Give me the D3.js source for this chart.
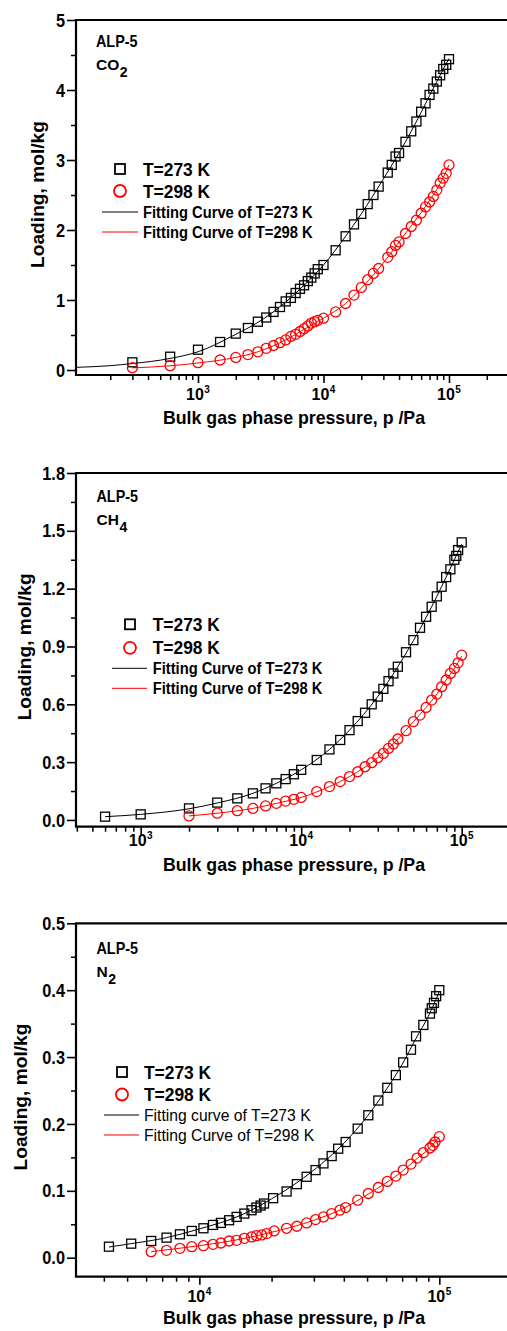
<!DOCTYPE html>
<html>
<head>
<meta charset="utf-8">
<script src="https://cdn.jsdelivr.net/npm/d3@7"></script>
<style>
  body { margin: 0; background: #fff; }
  svg { display: block; font-family: "Liberation Sans", Arial, sans-serif; }
</style>
</head>
<body>
<div id="chart"></div>
<script>
// ── Data: CO2 ────────────────────────────────────────────────────────────
const co2P = [300, 600, 1000, 1500, 2000, 2500, 3000, 3500, 4000, 4500, 5000, 5500, 6000, 6500, 7000, 7500, 8000, 8500, 9000, 10000, 12500, 15000, 17500, 20000, 22500, 25000, 27500, 32500, 35000, 37500, 40000, 45000, 50000, 55000, 60000, 65000, 70000, 75000, 80000, 85000, 90000, 95000, 100000];
const co2Q273 = [0.11, 0.19, 0.29, 0.40, 0.52, 0.60, 0.69, 0.75, 0.83, 0.90, 0.98, 1.03, 1.10, 1.16, 1.21, 1.27, 1.32, 1.38, 1.44, 1.50, 1.71, 1.91, 2.08, 2.23, 2.37, 2.50, 2.62, 2.82, 2.93, 3.05, 3.10, 3.26, 3.41, 3.55, 3.69, 3.81, 3.93, 4.02, 4.12, 4.21, 4.30, 4.36, 4.44];
const co2Q298 = [0.033, 0.062, 0.105, 0.143, 0.18, 0.22, 0.26, 0.31, 0.35, 0.39, 0.43, 0.48, 0.51, 0.55, 0.59, 0.63, 0.67, 0.69, 0.71, 0.74, 0.83, 0.95, 1.07, 1.18, 1.29, 1.38, 1.45, 1.61, 1.69, 1.78, 1.83, 1.95, 2.05, 2.14, 2.24, 2.33, 2.40, 2.48, 2.57, 2.67, 2.74, 2.81, 2.93];
const co2FitP273 = [107, 200, 300, 600, 1000, 2000, 3000, 5000, 7000, 10000, 15000, 20000, 30000, 40000, 50000, 60000, 70000, 80000, 90000, 100000];
const co2Fit273 = [0.038, 0.062, 0.092, 0.165, 0.26, 0.51, 0.68, 0.97, 1.21, 1.50, 1.91, 2.23, 2.73, 3.10, 3.41, 3.68, 3.92, 4.12, 4.30, 4.45];
const co2FitP298 = [300, 600, 1000, 2000, 3000, 5000, 7000, 10000, 15000, 20000, 30000, 40000, 50000, 60000, 70000, 80000, 90000, 100000];
const co2Fit298 = [0.03, 0.06, 0.10, 0.18, 0.26, 0.43, 0.58, 0.74, 0.95, 1.17, 1.53, 1.83, 2.06, 2.25, 2.42, 2.58, 2.75, 2.93];

// ── Data: CH4 ────────────────────────────────────────────────────────────
const ch4P273 = [600, 1000, 2000, 3000, 4000, 5000, 6000, 7000, 8000, 9000, 10000, 12500, 15000, 17500, 20000, 22500, 25000, 27500, 30000, 32500, 35000, 37500, 40000, 45000, 50000, 55000, 60000, 65000, 70000, 75000, 80000, 85000, 90000, 92500, 95000, 100000];
const ch4Q273 = [0.017, 0.029, 0.06, 0.09, 0.112, 0.138, 0.164, 0.19, 0.212, 0.237, 0.26, 0.311, 0.366, 0.415, 0.466, 0.513, 0.556, 0.60, 0.64, 0.68, 0.72, 0.76, 0.795, 0.87, 0.933, 0.997, 1.054, 1.106, 1.16, 1.21, 1.26, 1.30, 1.35, 1.37, 1.40, 1.44];
const ch4P298 = [2000, 3000, 4000, 5000, 6000, 7000, 8000, 9000, 10000, 12500, 15000, 17500, 20000, 22500, 25000, 27500, 30000, 32500, 35000, 37500, 40000, 45000, 50000, 55000, 60000, 65000, 70000, 75000, 80000, 85000, 90000, 95000, 100000];
const ch4Q298 = [0.021, 0.035, 0.048, 0.06, 0.073, 0.086, 0.098, 0.107, 0.117, 0.147, 0.173, 0.199, 0.225, 0.25, 0.276, 0.297, 0.323, 0.345, 0.371, 0.394, 0.42, 0.463, 0.51, 0.544, 0.584, 0.622, 0.653, 0.691, 0.726, 0.76, 0.786, 0.815, 0.855];
const ch4FitP273 = [600, 1000, 2000, 3000, 5000, 7000, 10000, 15000, 20000, 30000, 40000, 50000, 60000, 70000, 80000, 90000, 100000];
const ch4Fit273 = [0.017, 0.029, 0.058, 0.088, 0.138, 0.19, 0.26, 0.366, 0.466, 0.64, 0.795, 0.93, 1.05, 1.16, 1.26, 1.35, 1.43];
const ch4FitP298 = [2000, 3000, 5000, 7000, 10000, 15000, 20000, 30000, 40000, 50000, 60000, 70000, 80000, 90000, 100000];
const ch4Fit298 = [0.021, 0.035, 0.06, 0.086, 0.117, 0.173, 0.225, 0.323, 0.42, 0.51, 0.584, 0.653, 0.726, 0.786, 0.85];

// ── Data: N2 ─────────────────────────────────────────────────────────────
const n2P273 = [4200, 5200, 6300, 7300, 8300, 9300, 10400, 11400, 12300, 13300, 14300, 15400, 16500, 17300, 18000, 18600, 20300, 23100, 25500, 28000, 30500, 32900, 35600, 37900, 40700, 45700, 50600, 55700, 60700, 65900, 70700, 76200, 80000, 85800, 91400, 93000, 95000, 97000, 100000];
const n2Q273 = [0.0165, 0.021, 0.025, 0.030, 0.035, 0.040, 0.044, 0.049, 0.052, 0.056, 0.061, 0.066, 0.071, 0.075, 0.078, 0.081, 0.089, 0.099, 0.110, 0.121, 0.131, 0.141, 0.152, 0.163, 0.173, 0.193, 0.213, 0.235, 0.254, 0.273, 0.292, 0.311, 0.331, 0.348, 0.365, 0.373, 0.381, 0.391, 0.400];
const n2P298 = [6300, 7300, 8300, 9300, 10400, 11400, 12300, 13300, 14300, 15400, 16500, 17300, 18200, 19100, 20500, 23100, 25500, 28000, 30500, 32900, 35600, 38500, 40700, 45700, 50600, 55700, 60700, 65900, 70700, 76200, 80800, 85800, 91400, 94000, 96000, 100000];
const n2Q298 = [0.009, 0.011, 0.014, 0.0165, 0.018, 0.020, 0.022, 0.025, 0.026, 0.029, 0.031, 0.033, 0.034, 0.036, 0.040, 0.044, 0.047, 0.052, 0.057, 0.061, 0.066, 0.071, 0.075, 0.086, 0.096, 0.105, 0.114, 0.122, 0.131, 0.140, 0.149, 0.157, 0.164, 0.168, 0.173, 0.181];
const n2FitP273 = [4200, 5200, 7300, 10000, 15000, 20000, 30000, 40000, 50000, 60000, 70000, 80000, 90000, 100000];
const n2Fit273 = [0.016, 0.021, 0.030, 0.043, 0.064, 0.088, 0.131, 0.171, 0.211, 0.251, 0.289, 0.328, 0.361, 0.398];
const n2FitP298 = [6300, 10000, 15000, 20000, 30000, 40000, 50000, 60000, 70000, 80000, 90000, 100000];
const n2Fit298 = [0.009, 0.018, 0.028, 0.038, 0.056, 0.074, 0.094, 0.112, 0.129, 0.147, 0.162, 0.181];

// ── Ticks and labels ─────────────────────────────────────────────────────
const co2YTicks = [0, 1, 2, 3, 4, 5];
const ch4YTicks = [0, 0.3, 0.6, 0.9, 1.2, 1.5, 1.8];
const n2YTicks = [0, 0.1, 0.2, 0.3, 0.4, 0.5];
const legendLabels = ["T=273 K", "T=298 K"];
const co2FitLabels = ["Fitting Curve of T=273 K", "Fitting Curve of T=298 K"];
const ch4FitLabels = ["Fitting Curve of T=273 K", "Fitting Curve of T=298 K"];
const n2FitLabels = ["Fitting curve of T=273 K", "Fitting Curve of T=298 K"];

const W = 507, H = 1331;
const RED = "#ff0000";

const svg = d3.select("#chart").append("svg")
  .attr("width", W).attr("height", H);

// narrow the text a bit, the original font is condensed
function squeeze(sel, k) {
  sel.each(function () {
    const w = this.getComputedTextLength();
    d3.select(this).attr("textLength", w * k).attr("lengthAdjust", "spacingAndGlyphs");
  });
}

function zip(a, b) { return a.map((v, i) => [v, b[i]]); }

function drawPanel(p) {
  const x = d3.scaleLog().domain(p.xDomain).range([p.left, p.right]);
  const y = d3.scaleLinear().domain(p.yDomain).range([p.bottom, p.top]);
  const g = svg.append("g");

  // ── Y axis ──
  const minorY = d3.range(p.yTicks.length - 1).map(i => (p.yTicks[i] + p.yTicks[i + 1]) / 2);
  g.append("g").attr("transform", `translate(${p.left},0)`)
    .call(d3.axisLeft(y).tickValues(minorY).tickSize(5).tickFormat(""))
    .call(a => a.select(".domain").remove())
    .selectAll("line").attr("stroke-width", 1.5);

  const ya = g.append("g").attr("transform", `translate(${p.left},0)`)
    .call(d3.axisLeft(y).tickValues(p.yTicks).tickSize(9).tickPadding(2).tickFormat(p.yFmt))
    .call(a => a.select(".domain").remove())
    .attr("font-family", null).attr("font-size", 19).attr("font-weight", "bold");
  ya.selectAll("line").attr("stroke-width", 1.6);
  ya.selectAll("text").attr("fill", "#000").call(squeeze, 0.86);

  // ── X axis ──
  const lo = Math.floor(Math.log10(p.xDomain[0])), hi = Math.ceil(Math.log10(p.xDomain[1]));
  const majorX = d3.range(lo, hi + 1).map(e => 10 ** e).filter(v => v >= p.xDomain[0] && v <= p.xDomain[1]);
  const minorX = [];
  d3.range(lo, hi).forEach(e => d3.range(2, 10).forEach(m => {
    const v = m * 10 ** e;
    if (v >= p.xDomain[0] && v <= p.xDomain[1]) minorX.push(v);
  }));

  g.append("g").attr("transform", `translate(0,${p.bottom})`)
    .call(d3.axisBottom(x).tickValues(minorX).tickSize(5).tickFormat(""))
    .call(a => a.select(".domain").remove())
    .selectAll("line").attr("stroke-width", 1.5);
  g.append("g").attr("transform", `translate(0,${p.bottom})`)
    .call(d3.axisBottom(x).tickValues(majorX).tickSize(8).tickFormat(""))
    .call(a => a.select(".domain").remove())
    .selectAll("line").attr("stroke-width", 1.6);

  const xl = g.selectAll(".xlab").data(majorX).join("text")
    .attr("class", "xlab")
    .attr("x", d => x(d)).attr("y", p.xLabelY - 1)
    .attr("text-anchor", "middle")
    .attr("font-size", 16).attr("font-weight", "bold");
  xl.append("tspan").text("10");
  xl.append("tspan").attr("dx", 0.5).attr("dy", -7).attr("font-size", 10).text(d => Math.round(Math.log10(d)));

  // ── Frame ──
  g.append("path")
    .attr("d", `M${W + 5},${p.top}H${p.left}V${p.bottom}H${W + 5}`)
    .attr("fill", "none").attr("stroke", "#000").attr("stroke-width", 2.2);

  // ── Axis titles ──
  g.append("text")
    .attr("transform", `translate(${p.yTitleX},${(p.top + p.bottom) / 2 - 3}) rotate(-90)`)
    .attr("text-anchor", "middle")
    .attr("font-size", 19).attr("font-weight", "bold")
    .attr("textLength", 147).attr("lengthAdjust", "spacingAndGlyphs")
    .text("Loading, mol/kg");

  g.append("text")
    .attr("x", 294).attr("y", p.xTitleY + 1)
    .attr("text-anchor", "middle")
    .attr("font-size", 18.5).attr("font-weight", "bold")
    .attr("textLength", 262).attr("lengthAdjust", "spacingAndGlyphs")
    .text("Bulk gas phase pressure, p /Pa");

  // ── Fitting curves ──
  const line = d3.line().x(d => x(d[0])).y(d => y(d[1])).curve(d3.curveMonotoneX);
  g.append("path").datum(zip(p.fitP273, p.fit273))
    .attr("d", line).attr("fill", "none").attr("stroke", "#000").attr("stroke-width", 1);
  g.append("path").datum(zip(p.fitP298, p.fit298))
    .attr("d", line).attr("fill", "none").attr("stroke", RED).attr("stroke-width", 1);

  // ── Markers ──
  const s = 9;
  g.selectAll(".sq").data(zip(p.p273, p.q273)).join("rect")
    .attr("class", "sq")
    .attr("x", d => x(d[0]) - s / 2).attr("y", d => y(d[1]) - s / 2)
    .attr("width", s).attr("height", s)
    .attr("fill", "none").attr("stroke", "#000").attr("stroke-width", 1.3);
  g.selectAll(".ci").data(zip(p.p298, p.q298)).join("circle")
    .attr("class", "ci")
    .attr("cx", d => x(d[0])).attr("cy", d => y(d[1])).attr("r", 5)
    .attr("fill", "none").attr("stroke", RED).attr("stroke-width", 1.3);

  // ── Gas annotation ──
  g.append("text").attr("x", p.annX).attr("y", p.annY)
    .attr("font-size", 16.5).attr("font-weight", "bold")
    .text("ALP-5").call(squeeze, 0.87);
  const gas = g.append("text").attr("x", p.annX).attr("y", p.annY + 23)
    .attr("font-size", 15.5).attr("font-weight", "bold");
  gas.append("tspan").text(p.gas);
  gas.append("tspan").attr("dx", 0.5).attr("dy", 7).attr("font-size", 14).text(p.gasSub);

  // ── Legend ──
  const L = p.legend;
  g.append("rect")
    .attr("x", L.mx - 5).attr("y", L.y0 - 5).attr("width", 10).attr("height", 10)
    .attr("fill", "none").attr("stroke", "#000").attr("stroke-width", 1.8);
  g.append("circle")
    .attr("cx", L.mx).attr("cy", L.y0 + L.dy1).attr("r", 6)
    .attr("fill", "none").attr("stroke", RED).attr("stroke-width", 1.8);
  legendLabels.forEach((t, i) => {
    g.append("text").attr("x", L.tx).attr("y", L.y0 + 6.5 + i * L.dy1)
      .attr("font-size", 18.5).attr("font-weight", "bold")
      .text(t).call(squeeze, 0.94);
  });
  [["#000", 0], [RED, 1]].forEach(([c, i]) => {
    const ly = L.y0 + L.dy2 + i * 20;
    g.append("line").attr("x1", L.lx0).attr("x2", L.lx1).attr("y1", ly).attr("y2", ly)
      .attr("stroke", c).attr("stroke-width", 1);
    g.append("text").attr("x", L.tx).attr("y", ly + 6)
      .attr("font-size", 16).attr("font-weight", p.fitWeight)
      .text(p.fitLabels[i]).call(squeeze, p.fitSqueeze);
  });
}

// ── Panels ───────────────────────────────────────────────────────────────
drawPanel({
  top: 20, bottom: 375, left: 76, right: 511.75,
  xDomain: [10 ** 2.028, 10 ** 5.5], yDomain: [-0.0714, 5],
  yTicks: co2YTicks, yFmt: d3.format("d"),
  xLabelY: 401, xTitleY: 423, yTitleX: 43.5,
  p273: co2P, q273: co2Q273, p298: co2P, q298: co2Q298,
  fitP273: co2FitP273, fit273: co2Fit273, fitP298: co2FitP298, fit298: co2Fit298,
  annX: 96, annY: 46.7, gas: "CO", gasSub: "2",
  legend: { mx: 120, y0: 169, dy1: 22, dy2: 43, lx0: 102, lx1: 138, tx: 143 },
  fitLabels: co2FitLabels, fitWeight: "bold", fitSqueeze: 0.92
});

drawPanel({
  top: 473, bottom: 826.7, left: 76, right: 509.85,
  xDomain: [10 ** 2.597, 10 ** 5.3], yDomain: [-0.035, 1.8],
  yTicks: ch4YTicks, yFmt: d3.format(".1f"),
  xLabelY: 847, xTitleY: 870, yTitleX: 30.5,
  p273: ch4P273, q273: ch4Q273, p298: ch4P298, q298: ch4Q298,
  fitP273: ch4FitP273, fit273: ch4Fit273, fitP298: ch4FitP298, fit298: ch4Fit298,
  annX: 96.5, annY: 501.7, gas: "CH", gasSub: "4",
  legend: { mx: 130, y0: 624.3, dy1: 23.5, dy2: 44, lx0: 112, lx1: 147, tx: 152.7 },
  fitLabels: ch4FitLabels, fitWeight: "bold", fitSqueeze: 0.92
});

drawPanel({
  top: 923.3, bottom: 1276.7, left: 76, right: 511.3,
  xDomain: [10 ** 3.486, 10 ** 5.3], yDomain: [-0.0284, 0.5],
  yTicks: n2YTicks, yFmt: d3.format(".1f"),
  xLabelY: 1303, xTitleY: 1323, yTitleX: 27,
  p273: n2P273, q273: n2Q273, p298: n2P298, q298: n2Q298,
  fitP273: n2FitP273, fit273: n2Fit273, fitP298: n2FitP298, fit298: n2Fit298,
  annX: 96.5, annY: 954, gas: "N", gasSub: "2",
  legend: { mx: 122, y0: 1072, dy1: 22.5, dy2: 43, lx0: 104, lx1: 139, tx: 144 },
  fitLabels: n2FitLabels, fitWeight: "normal", fitSqueeze: 0.98
});
</script>
</body>
</html>
